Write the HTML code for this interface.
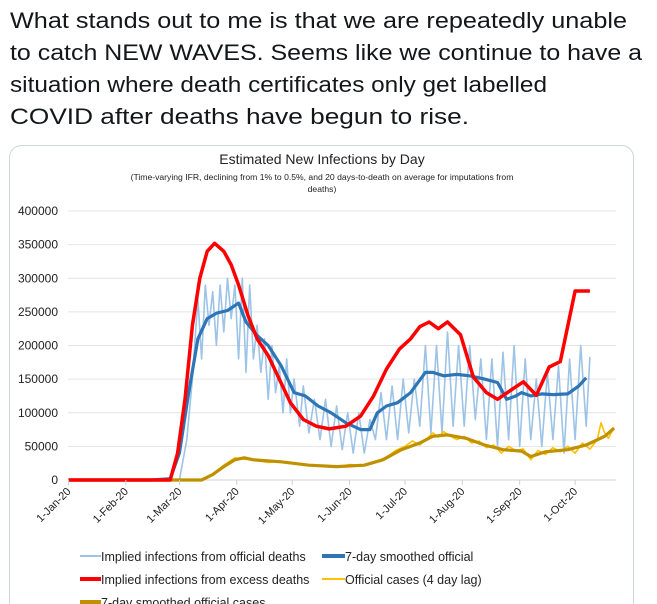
<!DOCTYPE html>
<html><head><meta charset="utf-8"><style>
body{margin:0;background:#fff;width:657px;height:604px;overflow:hidden;font-family:"Liberation Sans",sans-serif}
svg{display:block}
</style></head><body>
<svg width="657" height="604">
<g font-size="22.5" fill="#14171a" font-family="Liberation Sans, sans-serif">
<text x="10" y="28" textLength="617" lengthAdjust="spacingAndGlyphs">What stands out to me is that we are repeatedly unable</text>
<text x="10" y="60" textLength="632" lengthAdjust="spacingAndGlyphs">to catch NEW WAVES. Seems like we continue to have a</text>
<text x="10" y="92" textLength="537" lengthAdjust="spacingAndGlyphs">situation where death certificates only get labelled</text>
<text x="10" y="124" textLength="459" lengthAdjust="spacingAndGlyphs">COVID after deaths have begun to rise.</text>
</g>
<rect x="9.5" y="145.5" width="624" height="480" rx="12" fill="#fff" stroke="#ccd6dd"/>
<text x="322" y="164" font-size="14" text-anchor="middle" fill="#222">Estimated New Infections by Day</text>
<text x="322" y="180" font-size="8.6" text-anchor="middle" fill="#222">(Time-varying IFR, declining from 1% to 0.5%, and 20 days-to-death on average for imputations from</text>
<text x="322" y="192" font-size="8.6" text-anchor="middle" fill="#222">deaths)</text>
<g id="grid"></g><g id="marks"></g><g id="axes"></g>
<g font-size="12.5" fill="#222">
<line x1="80" y1="556" x2="101" y2="556" stroke="#9dc3e6" stroke-width="2"/>
<text x="101" y="561">Implied infections from official deaths</text>
<line x1="322" y1="556" x2="345" y2="556" stroke="#2e75b6" stroke-width="4"/>
<text x="345" y="561">7-day smoothed official</text>
<line x1="80" y1="579" x2="101" y2="579" stroke="#ff0000" stroke-width="4"/>
<text x="101" y="584">Implied infections from excess deaths</text>
<line x1="322" y1="579" x2="345" y2="579" stroke="#ffc000" stroke-width="2"/>
<text x="345" y="584">Official cases (4 day lag)</text>
<line x1="80" y1="602" x2="101" y2="602" stroke="#bf9000" stroke-width="4"/>
<text x="101" y="607">7-day smoothed official cases</text>
</g>
</svg>
<script>
const yTicks=[0,50000,100000,150000,200000,250000,300000,350000,400000];
const monthLabels=["1-Jan-20","1-Feb-20","1-Mar-20","1-Apr-20","1-May-20","1-Jun-20","1-Jul-20","1-Aug-20","1-Sep-20","1-Oct-20"];
const monthDays=[0,31,60,91,121,152,182,213,244,274];
const redDays=[0,30,55,59,63,67,71,75,79,84,88,92,97,102,108,114,120,127,134,141,150,158,165,172,179,185,190,195,200,205,212,219,226,232,240,246,253,260,266,274,282];
const redVals=[0,0,0,40000,120000,230000,300000,340000,352000,340000,320000,290000,245000,210000,185000,150000,115000,90000,80000,76000,80000,95000,125000,165000,195000,210000,228000,235000,225000,235000,216000,153000,130000,120000,135000,146000,126000,168000,176000,281000,281000];
const blueDays=[0,45,55,60,65,70,75,80,86,92,96,102,108,115,122,128,135,142,150,158,163,167,172,178,185,193,197,203,210,217,225,232,237,242,245,250,256,262,270,276,280];
const blueVals=[0,0,2000,40000,130000,210000,240000,248000,252000,263000,235000,215000,200000,170000,130000,125000,110000,100000,85000,75000,75000,100000,110000,115000,130000,160000,160000,155000,157000,155000,150000,145000,120000,125000,130000,125000,128000,127000,128000,140000,152000];
const lightDays=[0,60,64,67,70,72,74,76,78,80,82,84,86,88,90,92,94,96,98,100,102,104,106,108,110,112,114,116,118,120,122,125,127,130,133,136,139,142,145,148,151,154,157,160,163,166,169,172,175,178,181,184,187,190,193,196,199,202,205,208,211,214,217,220,223,226,229,232,235,238,241,244,247,250,253,256,259,262,265,268,271,274,277,280,282];
const lightVals=[0,0,60000,150000,270000,180000,290000,230000,280000,200000,290000,220000,300000,240000,290000,180000,300000,160000,290000,180000,230000,160000,210000,120000,200000,130000,170000,100000,180000,100000,150000,80000,140000,70000,120000,60000,120000,50000,110000,45000,100000,40000,100000,40000,90000,60000,130000,60000,140000,60000,150000,70000,150000,80000,200000,70000,200000,70000,220000,80000,200000,80000,200000,90000,180000,60000,180000,50000,190000,60000,200000,50000,180000,60000,150000,50000,160000,60000,170000,40000,180000,60000,200000,80000,183000];
const ocDays=[0,72,78,84,90,95,100,115,130,145,160,170,180,190,197,205,215,225,235,245,250,258,270,280,290,295];
const ocVals=[0,0,8000,20000,30000,33000,30000,27000,22000,20000,22000,30000,45000,55000,65000,67000,62000,52000,45000,43000,35000,42000,45000,52000,65000,77000];
const rawDays=[0,72,78,84,90,95,100,108,115,122,130,138,145,152,160,167,172,177,182,186,190,194,197,200,203,206,210,214,218,222,226,230,234,238,242,246,250,254,258,262,266,270,274,278,282,286,288,290,292,295];
const rawVals=[0,0,9000,22000,33000,31000,30000,26000,28000,24000,23000,21000,19000,23000,21000,28000,34000,44000,50000,58000,52000,62000,70000,64000,72000,66000,60000,65000,55000,58000,48000,52000,40000,50000,44000,46000,30000,44000,38000,48000,42000,50000,40000,55000,46000,60000,85000,70000,62000,78000];
const NS="http://www.w3.org/2000/svg";
const X0=68.5,PX=1.849,Y0=480,PY=269/400000;
const xs=d=>X0+d*PX, ys=v=>Y0-v*PY;
const grid=document.getElementById('grid'),marks=document.getElementById('marks'),axes=document.getElementById('axes');
function mk(tag,attrs,parent){const e=document.createElementNS(NS,tag);for(const k in attrs)e.setAttribute(k,attrs[k]);parent.appendChild(e);return e;}
yTicks.forEach(t=>{
 const l=mk('line',{x1:68,x2:616,y1:ys(t),y2:ys(t),stroke:t===0?'#d0d0d0':'#e4e4e4','stroke-width':1},grid);
 
 
 const tx=mk('text',{x:58,y:ys(t)+4,'font-size':12,'text-anchor':'end',fill:'#222'},axes);
 tx.textContent=String(t);
 
 
});
monthDays.forEach((d,i)=>{
 const l=mk('line',{x1:xs(d),x2:xs(d),y1:480,y2:485,stroke:'#d0d0d0'},axes);
 
 
 const tx=mk('text',{x:xs(d)+3,y:492,'font-size':11,'text-anchor':'end',fill:'#222',transform:`rotate(-45 ${xs(d)+3} 492)`},axes);
 tx.textContent=monthLabels[i];
 
 
});
function line(days,vals,color,w,name){
 const p=mk('polyline',{points:days.map((d,i)=>xs(d).toFixed(1)+','+ys(vals[i]).toFixed(1)).join(' '),fill:'none',stroke:color,'stroke-width':w,'stroke-linejoin':'round'},marks);
 
 
}
line(lightDays,lightVals,'#9dc3e6',1.6,'implied-official-deaths-line');
line(rawDays,rawVals,'#ffc000',1.6,'official-cases-line');
line(ocDays,ocVals,'#bf9000',3.2,'smoothed-cases-line');
line(blueDays,blueVals,'#2e75b6',3.2,'smoothed-official-line');
line(redDays,redVals,'#ff0000',3.5,'excess-deaths-line');
</script>
</body></html>
